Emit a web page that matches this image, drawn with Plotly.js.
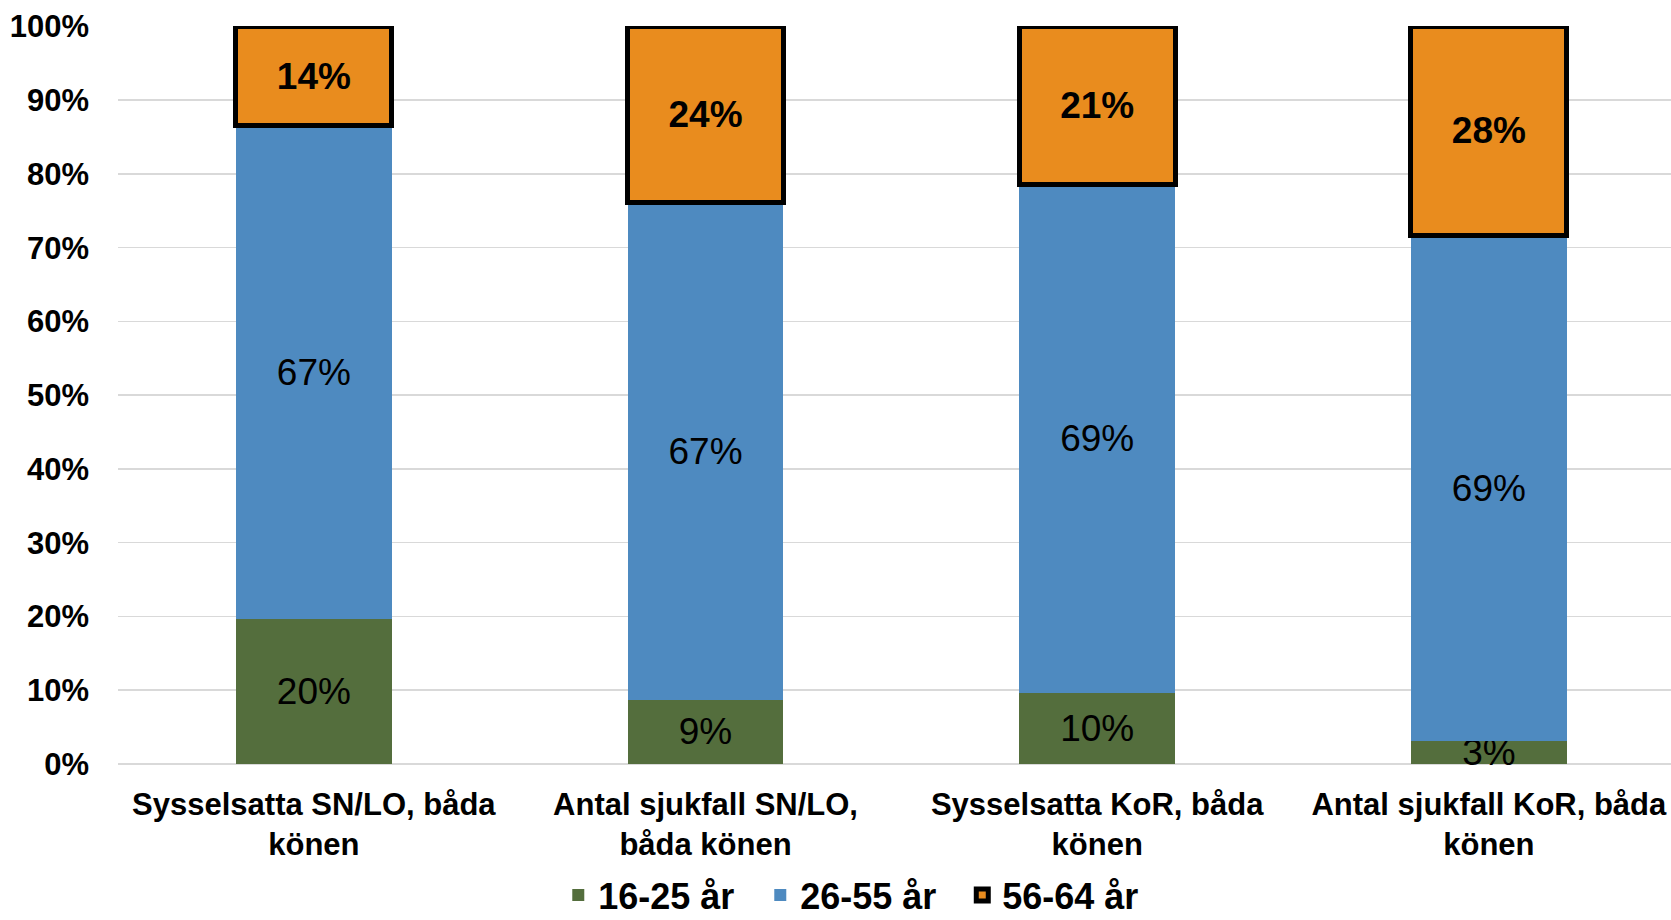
<!DOCTYPE html>
<html>
<head>
<meta charset="utf-8">
<script src="https://cdn.plot.ly/plotly-3.0.1.min.js"></script>
<style>
html,body{margin:0;padding:0;background:#fff;overflow:hidden;}
#chart{width:1671px;height:920px;}
</style>
</head>
<body>
<div id="chart"></div>
<script>
// Categories (x-axis tick labels)
const categories = [
  "Sysselsatta SN/LO, båda<br>könen",
  "Antal sjukfall SN/LO,<br>båda könen",
  "Sysselsatta KoR, båda<br>könen",
  "Antal sjukfall KoR, båda<br>könen"
];
// Series names
const seriesNames = ["16-25 år", "26-55 år", "56-64 år"];
// Series values (percent of total)
const age16_25 = [19.6, 8.7, 9.6, 3.1];
const age26_55 = [66.9, 67.4, 69.0, 68.6];
const age56_64 = [13.5, 23.9, 21.4, 28.3];
// Y-axis ticks
const yTickValues = [0, 10, 20, 30, 40, 50, 60, 70, 80, 90, 100];
const yTickLabels = ["0%", "10%", "20%", "30%", "40%", "50%", "60%", "70%", "80%", "90%", "100%"];

const FONT = "Arial, 'Liberation Sans', sans-serif";
const colors = ["#546E3D", "#4E8AC0", "#E98C1E"];

function trace(name, values, color, bold, line) {
  return {
    type: "bar",
    name: name,
    x: categories,
    y: values,
    marker: { color: color, line: line },
    texttemplate: "%{y:.0f}%",
    textposition: "inside",
    insidetextanchor: "middle",
    constraintext: "none",
    cliponaxis: false,
    textangle: 0,
    textfont: { family: FONT, size: 37, color: "#000000", weight: bold ? "bold" : "normal" },
    hoverinfo: "skip"
  };
}

const data = [
  trace(seriesNames[0], age16_25, colors[0], false, { width: 0 }),
  trace(seriesNames[1], age26_55, colors[1], false, { width: 0 }),
  trace(seriesNames[2], age56_64, colors[2], true, { width: 5, color: "#000000" })
];

const layout = {
  width: 1671,
  height: 920,
  barmode: "stack",
  bargap: 0.602,
  paper_bgcolor: "#ffffff",
  plot_bgcolor: "#ffffff",
  margin: { l: 118, r: 0, t: 26, b: 156, pad: 0 },
  font: { family: FONT, color: "#000000" },
  xaxis: {
    type: "category",
    range: [-0.5, 3.465],
    showgrid: false,
    showline: false,
    zeroline: false,
    ticks: "",
    tickfont: { family: FONT, size: 31, color: "#000000", weight: "bold" },
    ticklabelstandoff: 19,
    fixedrange: true
  },
  yaxis: {
    range: [0, 100.05],
    tickmode: "array",
    tickvals: yTickValues,
    ticktext: yTickLabels,
    showgrid: true,
    gridcolor: "#D9D9D9",
    gridwidth: 1.5,
    zeroline: true,
    zerolinecolor: "#D9D9D9",
    zerolinewidth: 1.5,
    showline: false,
    ticks: "",
    tickfont: { family: FONT, size: 31, color: "#000000", weight: "bold" },
    ticklabelstandoff: 28,
    fixedrange: true
  },
  showlegend: true,
  legend: {
    orientation: "h",
    xref: "paper",
    x: 0.2835,
    xanchor: "left",
    yref: "container",
    y: 0.027,
    yanchor: "middle",
    entrywidth: 157,
    entrywidthmode: "pixels",
    font: { family: FONT, size: 36, color: "#000000", weight: "bold" },
    traceorder: "normal",
    itemclick: false,
    itemdoubleclick: false
  }
};

Plotly.newPlot("chart", data, layout, { displayModeBar: false, staticPlot: true });
</script>
</body>
</html>
